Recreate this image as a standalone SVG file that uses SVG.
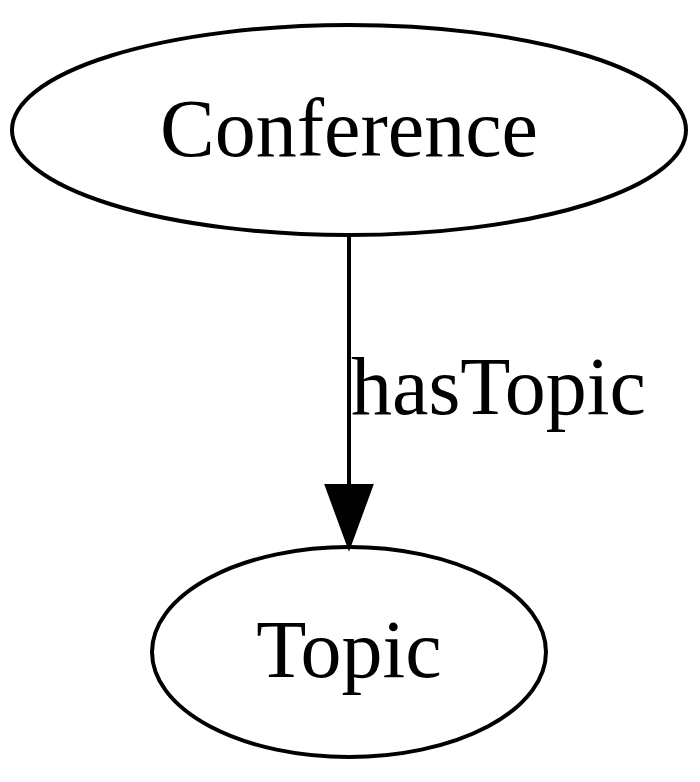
<svg xmlns="http://www.w3.org/2000/svg" width="700" height="782" viewBox="0 0 700 782">
<style>
.node ellipse{fill:none;stroke:#000;stroke-width:4}
text{font-family:"Liberation Serif","Times New Roman",serif;font-size:82px;fill:#000}
.edge line{stroke:#000;stroke-width:4}
.edge polygon{fill:#000;stroke:#000;stroke-width:4}
</style>
<rect width="700" height="782" fill="#fff"/>
<g id="edges" class="edge">
<line x1="349" y1="236" x2="349" y2="486"/>
<polygon points="327,486 371,486 349,546"/>
<text x="351" y="414">hasTopic</text>
</g>
<g id="node-conference" class="node">
<ellipse cx="349" cy="130" rx="337" ry="105"/>
<text x="349" y="156" text-anchor="middle">Conference</text>
</g>
<g id="node-topic" class="node">
<ellipse cx="349" cy="652" rx="197" ry="105"/>
<text x="349" y="677" text-anchor="middle">Topic</text>
</g>
</svg>
